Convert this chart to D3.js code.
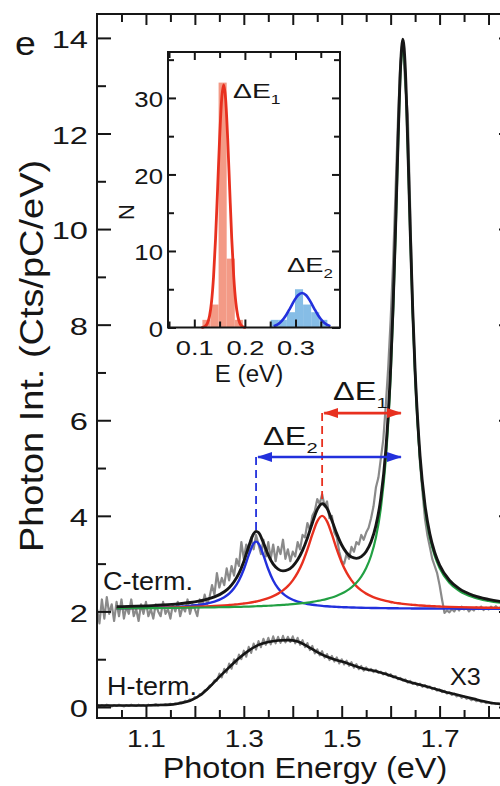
<!DOCTYPE html>
<html><head><meta charset="utf-8">
<script src="https://cdn.jsdelivr.net/npm/d3@7"></script>
<style>
html,body{margin:0;padding:0;background:#fff;}
svg{display:block;font-family:"Liberation Sans",Arial,Helvetica,sans-serif;}
</style></head><body>
<svg id="chart" width="500" height="786"></svg>
<script>
// ---------------- DATA ----------------
// C-terminated raw spectrum (gray), sampled every 0.005 eV from 1.000 eV
const cTermStart = 1.0, cTermStep = 0.005;
const cTermData = [
2.05,1.75,2.25,1.85,2.30,1.95,2.15,1.80,2.20,1.90,
2.25,1.85,2.10,1.95,2.25,1.90,2.05,1.80,2.15,1.95,
2.20,1.90,2.05,1.85,2.15,2.00,1.90,2.20,1.95,2.05,
1.85,2.15,2.00,2.20,1.90,2.10,2.00,2.25,1.95,2.15,
2.05,1.90,2.25,2.10,2.35,2.15,2.30,2.55,2.35,2.80,
2.50,2.70,2.55,2.90,2.65,2.95,2.75,3.10,2.95,3.45,
3.10,3.40,3.25,3.55,3.30,3.60,3.40,3.20,3.50,3.15,
3.45,3.10,3.40,3.05,3.35,3.20,3.50,3.10,3.30,3.05,
3.25,3.15,3.45,3.30,3.60,3.55,3.85,3.70,4.00,4.10,
4.35,4.25,4.45,4.20,4.30,3.95,4.00,3.65,3.55,3.25,
3.05,3.00,3.20,3.10,3.35,3.25,3.45,3.40,3.60,3.50,
3.65,3.75,3.95,4.20,4.60,4.80,5.20,5.60,6.30,7.10,
8.10,9.30,10.80,12.30,13.50,13.90,13.00,12.40,10.40,8.30,
7.00,6.00,5.10,4.50,3.95,3.60,3.35,3.10,2.95,2.80,
2.55,2.25,1.97,2.02,1.98,2.05,2.00,2.08,2.02,2.10,
2.04,2.08,2.00,2.06,2.02,2.09,2.05,2.10,2.03,2.08,
2.04,2.10,2.06,2.11,2.05,2.09,2.06,2.10,2.05,2.08,
2.06];
// H-terminated raw spectrum (gray, x3), same sampling
const hTermData = [
0.05,0.01,0.04,0.02,0.05,0.03,0.01,0.04,0.02,0.05,
0.03,0.01,0.04,0.02,0.05,0.03,0.02,0.05,0.03,0.04,
0.02,0.05,0.03,0.04,0.06,0.03,0.05,0.04,0.06,0.04,
0.07,0.05,0.08,0.07,0.10,0.09,0.13,0.12,0.16,0.15,
0.21,0.20,0.27,0.28,0.35,0.36,0.45,0.46,0.56,0.55,
0.70,0.62,0.80,0.72,0.91,0.80,1.00,0.90,1.10,1.00,
1.18,1.05,1.26,1.13,1.33,1.20,1.38,1.25,1.43,1.30,
1.45,1.31,1.48,1.33,1.47,1.34,1.49,1.35,1.47,1.36,
1.48,1.33,1.45,1.30,1.40,1.25,1.34,1.19,1.28,1.12,
1.21,1.08,1.17,1.03,1.11,0.98,1.07,0.95,1.04,0.91,
1.00,0.89,0.97,0.86,0.94,0.82,0.90,0.79,0.86,0.76,
0.83,0.76,0.80,0.73,0.78,0.71,0.74,0.68,0.72,0.65,
0.69,0.62,0.65,0.58,0.61,0.55,0.58,0.51,0.55,0.48,
0.51,0.45,0.49,0.42,0.46,0.40,0.43,0.37,0.40,0.34,
0.37,0.31,0.34,0.28,0.31,0.25,0.28,0.22,0.25,0.19,
0.22,0.17,0.19,0.14,0.17,0.12,0.14,0.10,0.12,0.08,
0.10,0.07,0.08,0.06,0.07,0.05,0.06,0.05,0.06,0.04,
0.05];
// Fit curves for the C-term spectrum
const fitE = [1.04,1.08,1.12,1.16,1.19,1.22,1.24,1.26,1.27,1.28,1.29,1.30,1.31,1.32,1.325,1.33,1.34,1.35,1.36,1.37,1.38,1.39,1.40,1.41,1.42,1.43,1.44,1.45,1.46,1.47,1.48,1.49,1.50,1.51,1.52,1.53,1.54,1.55,1.56,1.57,1.58,1.59,1.60,1.605,1.61,1.615,1.62,1.625,1.63,1.635,1.64,1.645,1.65,1.66,1.67,1.68,1.69,1.70,1.72,1.74,1.77,1.80,1.85];
const fitBlue = [2.065,2.071,2.080,2.095,2.116,2.156,2.206,2.298,2.373,2.484,2.647,2.882,3.178,3.422,3.460,3.422,3.178,2.882,2.647,2.484,2.373,2.298,2.244,2.206,2.178,2.156,2.140,2.127,2.116,2.108,2.101,2.095,2.090,2.086,2.083,2.080,2.077,2.075,2.073,2.071,2.069,2.068,2.067,2.066,2.065,2.065,2.064,2.064,2.064,2.063,2.063,2.062,2.062,2.061,2.061,2.060,2.060,2.059,2.058,2.057,2.056,2.056,2.055];
const fitRed = [2.068,2.071,2.077,2.084,2.092,2.103,2.112,2.125,2.133,2.142,2.152,2.165,2.179,2.197,2.207,2.219,2.245,2.278,2.319,2.372,2.440,2.530,2.650,2.811,3.025,3.298,3.610,3.885,4.000,3.885,3.610,3.298,3.025,2.811,2.650,2.530,2.440,2.372,2.319,2.278,2.245,2.219,2.197,2.188,2.179,2.172,2.165,2.158,2.152,2.147,2.142,2.137,2.133,2.125,2.118,2.112,2.107,2.103,2.095,2.089,2.082,2.077,2.070];
const fitGreen = [2.065,2.068,2.070,2.074,2.078,2.082,2.085,2.089,2.091,2.094,2.096,2.099,2.102,2.106,2.108,2.110,2.114,2.119,2.124,2.130,2.136,2.144,2.152,2.162,2.173,2.185,2.200,2.218,2.238,2.263,2.292,2.329,2.374,2.431,2.504,2.600,2.729,2.908,3.165,3.551,4.161,5.173,6.932,8.238,9.865,11.669,13.217,13.850,13.217,11.669,9.865,8.238,6.932,5.173,4.161,3.551,3.165,2.908,2.600,2.431,2.292,2.218,2.152];
const fitSum = [2.098,2.110,2.127,2.153,2.186,2.241,2.303,2.412,2.497,2.620,2.795,3.046,3.359,3.625,3.675,3.651,3.437,3.179,2.990,2.886,2.849,2.872,2.946,3.079,3.276,3.539,3.850,4.130,4.254,4.156,3.903,3.622,3.389,3.228,3.137,3.110,3.146,3.255,3.457,3.800,4.375,5.360,7.096,8.392,10.009,11.806,13.346,13.972,13.333,11.779,9.970,8.337,7.027,5.259,4.240,3.623,3.232,2.970,2.653,2.477,2.330,2.251,2.177];
// Smooth curve through the H-term spectrum
const hFitE = [1.00,1.04,1.08,1.12,1.15,1.17,1.19,1.21,1.23,1.25,1.27,1.29,1.31,1.33,1.35,1.37,1.39,1.41,1.43,1.45,1.47,1.49,1.51,1.53,1.55,1.57,1.59,1.61,1.63,1.65,1.67,1.69,1.71,1.73,1.75,1.77,1.79,1.81,1.83,1.85];
const hFit = [0.03,0.03,0.03,0.04,0.05,0.08,0.13,0.24,0.42,0.63,0.83,1.02,1.18,1.30,1.36,1.39,1.40,1.37,1.27,1.15,1.05,0.98,0.92,0.85,0.79,0.75,0.69,0.62,0.55,0.49,0.44,0.38,0.32,0.27,0.22,0.17,0.12,0.08,0.06,0.05];
// Peak energies used for the ΔE markers
const peakBlueE = 1.325, peakRedE = 1.46, peakGreenE = 1.625;
// Inset histograms
const binWidth = 0.016;
const redBinE = [0.124,0.140,0.156,0.172,0.188];
const redBinN = [1,3,32,9,1];
const blueBinE = [0.259,0.275,0.291,0.307,0.323,0.339,0.355];
const blueBinN = [1,1,2,5,3,2,1];
const redGaussE = [0.114,0.118,0.122,0.126,0.130,0.134,0.138,0.142,0.146,0.150,0.154,0.158,0.162,0.166,0.170,0.174,0.178,0.182,0.186,0.190,0.194,0.198,0.202];
const redGaussN = [0.02,0.06,0.20,0.57,1.47,3.31,6.60,11.61,18.02,24.66,29.77,31.70,29.77,24.66,18.02,11.61,6.60,3.31,1.47,0.57,0.20,0.06,0.02];
const blueGaussE = [0.257,0.265,0.273,0.281,0.289,0.297,0.305,0.313,0.321,0.329,0.337,0.345,0.353,0.361,0.369];
const blueGaussN = [0.18,0.42,0.86,1.56,2.48,3.45,4.21,4.50,4.21,3.45,2.48,1.56,0.86,0.42,0.18];
// Ticks
const xLabelTicks = [1.1,1.3,1.5,1.7];
const xMajorTicks = [1.2,1.4,1.6,1.8];
const xMinorTicks = [1.05,1.15,1.25,1.35,1.45,1.55,1.65,1.75];
const yMajorTicks = [0,2,4,6,8,10,12,14];
const yMinorTicks = [1,3,5,7,9,11,13];
const ixMajorTicks = [0.1,0.2,0.3];
const ixMinorTicks = [0.05,0.15,0.25,0.35];
const iyMajorTicks = [0,10,20,30];
const iyMinorTicks = [5,15,25,35];

// ---------------- CHART ----------------
const svg = d3.select("#chart");
const INK = "#161616";
const C_BLUE = "#2230dc", C_RED = "#e8301f", C_GREEN = "#22a043", C_GRAY = "#8a8a8a";

const x = d3.scaleLinear().domain([1.0, 1.85]).range([97, 513]);
const y = d3.scaleLinear().domain([-0.23, 14.5]).range([718, 14]);
const xi = d3.scaleLinear().domain([0.048, 0.388]).range([168, 340]);
const yi = d3.scaleLinear().domain([0, 36]).range([327.5, 52]);

const defs = svg.append("defs");
defs.append("clipPath").attr("id","plotClip").append("rect")
  .attr("x",97).attr("y",14).attr("width",416).attr("height",704);
function marker(id,color){
  defs.append("marker").attr("id",id).attr("viewBox","0 0 15 10")
    .attr("refX",14).attr("refY",5).attr("markerWidth",15).attr("markerHeight",10)
    .attr("markerUnits","userSpaceOnUse").attr("orient","auto-start-reverse")
    .append("path").attr("d","M0,0 L15,5 L0,10 Z").attr("fill",color);
}
marker("arrRed",C_RED); marker("arrBlue",C_BLUE);

const plot = svg.append("g").attr("clip-path","url(#plotClip)");

const grayLineC = d3.line().x((d,i)=>x(cTermStart + i*cTermStep)).y(d=>y(d));
plot.append("path").datum(hTermData).attr("d",grayLineC)
  .attr("fill","none").attr("stroke",C_GRAY).attr("stroke-width",2).attr("stroke-linejoin","round");
plot.append("path").datum(cTermData).attr("d",grayLineC)
  .attr("fill","none").attr("stroke",C_GRAY).attr("stroke-width",2.2).attr("stroke-linejoin","round");

const fitLine = d3.line().x((d,i)=>x(fitE[i])).y(d=>y(d)).curve(d3.curveMonotoneX);
[[fitBlue,C_BLUE,2.4],[fitRed,C_RED,2.4],[fitGreen,C_GREEN,2.2],[fitSum,INK,2.9]].forEach(([arr,c,w])=>{
  plot.append("path").datum(arr).attr("d",fitLine)
    .attr("fill","none").attr("stroke",c).attr("stroke-width",w).attr("stroke-linejoin","round");
});
const hLine = d3.line().x((d,i)=>x(hFitE[i])).y(d=>y(d)).curve(d3.curveMonotoneX);
plot.append("path").datum(hFit).attr("d",hLine)
  .attr("fill","none").attr("stroke",INK).attr("stroke-width",2.6);

// ΔE markers
const arrowRedV = 6.15, arrowBlueV = 5.23;
const peakRedSum = 4.25, peakBlueSum = 3.67;
plot.append("line").attr("x1",x(peakRedE)).attr("x2",x(peakRedE))
  .attr("y1",y(arrowRedV)).attr("y2",y(peakRedSum))
  .attr("stroke",C_RED).attr("stroke-width",1.8).attr("stroke-dasharray","8,5");
plot.append("line").attr("x1",x(peakBlueE)).attr("x2",x(peakBlueE))
  .attr("y1",y(arrowBlueV)).attr("y2",y(peakBlueSum))
  .attr("stroke",C_BLUE).attr("stroke-width",1.8).attr("stroke-dasharray","8,5");
plot.append("line").attr("x1",x(peakRedE)+2).attr("x2",x(peakGreenE)-2)
  .attr("y1",y(arrowRedV)).attr("y2",y(arrowRedV))
  .attr("stroke",C_RED).attr("stroke-width",2.6)
  .attr("marker-start","url(#arrRed)").attr("marker-end","url(#arrRed)");
plot.append("line").attr("x1",x(peakBlueE)+2).attr("x2",x(peakGreenE)-2)
  .attr("y1",y(arrowBlueV)).attr("y2",y(arrowBlueV))
  .attr("stroke",C_BLUE).attr("stroke-width",2.6)
  .attr("marker-start","url(#arrBlue)").attr("marker-end","url(#arrBlue)");

// ---------- axes helper ----------
function axisG(axisFn, scale, vals, size, tr, fmt){
  const a = axisFn(scale).tickValues(vals).tickSize(size).tickSizeOuter(0)
    .tickFormat(fmt || (()=>""));
  const g = svg.append("g").attr("transform",tr).call(a);
  g.select(".domain").remove();
  g.selectAll("line").attr("stroke",INK).attr("stroke-width",2);
  g.attr("font-family",null).attr("font-size",null);
  g.selectAll("text").attr("fill",INK);
  return g;
}
// main axes
const gyl = axisG(d3.axisLeft, y, yMajorTicks, -14, "translate(97,0)", d3.format("d"));
gyl.selectAll("text").attr("x",-9/1.42).attr("dy","0.42em")
  .attr("transform","scale(1.42,1)").style("font-size","23px");
axisG(d3.axisLeft, y, yMinorTicks, -9, "translate(97,0)");
axisG(d3.axisRight, y, yMajorTicks, -14, "translate(513,0)");
axisG(d3.axisRight, y, yMinorTicks, -9, "translate(513,0)");
const gxb = axisG(d3.axisBottom, x, xLabelTicks, -12, "translate(0,718)", d3.format(".1f"));
gxb.selectAll("text").attr("y",29).attr("dy",null)
  .attr("transform","scale(1.22,1)").style("font-size","23px");
axisG(d3.axisBottom, x, xMajorTicks, -12, "translate(0,718)");
axisG(d3.axisBottom, x, xMinorTicks, -8, "translate(0,718)");
axisG(d3.axisTop, x, xLabelTicks.concat(xMajorTicks), -11, "translate(0,14)");
axisG(d3.axisTop, x, xMinorTicks, -8, "translate(0,14)");
svg.append("rect").attr("x",97).attr("y",14).attr("width",416).attr("height",704)
  .attr("fill","none").attr("stroke",INK).attr("stroke-width",2);

// ---------- inset ----------
svg.append("rect").attr("x",168).attr("y",52).attr("width",172).attr("height",275.5)
  .attr("fill","#fff");
const inset = svg.append("g");
function bars(E,N,fill){
  inset.selectAll(null).data(N).enter().append("rect")
    .attr("x",(d,i)=>xi(E[i]-binWidth/2))
    .attr("width",(d,i)=>xi(E[i]+binWidth/2)-xi(E[i]-binWidth/2))
    .attr("y",d=>yi(d)).attr("height",d=>yi(0)-yi(d))
    .attr("fill",fill);
}
bars(redBinE, redBinN, "#f39a86");
bars(blueBinE, blueBinN, "#86bde6");
const gRed = d3.line().x((d,i)=>xi(redGaussE[i])).y(d=>yi(d)).curve(d3.curveMonotoneX);
const gBlue = d3.line().x((d,i)=>xi(blueGaussE[i])).y(d=>yi(d)).curve(d3.curveMonotoneX);
inset.append("path").datum(redGaussN).attr("d",gRed).attr("fill","none")
  .attr("stroke",C_RED).attr("stroke-width",2.8);
inset.append("path").datum(blueGaussN).attr("d",gBlue).attr("fill","none")
  .attr("stroke",C_BLUE).attr("stroke-width",2.6);

const giy = axisG(d3.axisLeft, yi, iyMajorTicks, -8, "translate(168,0)", d3.format("d"));
giy.selectAll("text").attr("x",-5/1.12).attr("dy","0.38em")
  .attr("transform","scale(1.12,1)").style("font-size","23px");
axisG(d3.axisLeft, yi, iyMinorTicks, -6, "translate(168,0)");
axisG(d3.axisRight, yi, iyMajorTicks, -8, "translate(340,0)");
axisG(d3.axisRight, yi, iyMinorTicks, -6, "translate(340,0)");
const gix = axisG(d3.axisBottom, xi, ixMajorTicks, -8, "translate(0,327.5)", d3.format(".1f"));
gix.selectAll("text").attr("y",27.5).attr("dy",null)
  .attr("transform","scale(1.3,1)").style("font-size","21px");
axisG(d3.axisBottom, xi, ixMinorTicks, -6, "translate(0,327.5)");
axisG(d3.axisTop, xi, ixMajorTicks, -8, "translate(0,52)");
axisG(d3.axisTop, xi, ixMinorTicks, -6, "translate(0,52)");
svg.append("rect").attr("x",168).attr("y",52).attr("width",172).attr("height",275.5)
  .attr("fill","none").attr("stroke",INK).attr("stroke-width",2);

// ---------- text ----------
function label(txt, tx, ty, size, sx, anchor, rot){
  const t = svg.append("text")
    .attr("transform",`translate(${tx},${ty})` + (rot?` rotate(${rot})`:"") + ` scale(${sx},1)`)
    .attr("text-anchor",anchor||"start").attr("fill",INK)
    .style("font-size",size+"px").text(txt);
  return t;
}
function deltaLabel(sub, tx, ty, size, sx){
  const t = svg.append("text").attr("transform",`translate(${tx},${ty}) scale(${sx},1)`)
    .attr("fill",INK).style("font-size",size+"px");
  t.append("tspan").text("ΔE");
  t.append("tspan").attr("dy",size*0.3).style("font-size",(size*0.62)+"px").text(sub);
}
label("e", 15, 55, 34, 1.1);
label("Photon Energy (eV)", 305, 778, 30, 1.08, "middle");
label("Photon Int. (Cts/pC/eV)", 43, 356, 33, 1.15, "middle", -90);
label("C-term.", 103, 590, 25, 1.08);
label("H-term.", 107, 695, 25, 1.08);
label("X3", 450, 685, 24, 1.05);
deltaLabel("1", 333, 400, 25, 1.3);
deltaLabel("2", 263, 445, 25, 1.3);
deltaLabel("1", 233, 98, 21, 1.35);
deltaLabel("2", 287, 272, 21, 1.3);
label("E (eV)", 249, 382, 23, 1.05, "middle");
label("N", 134, 212, 22, 1.0, "middle", -90);
</script>
</body></html>
